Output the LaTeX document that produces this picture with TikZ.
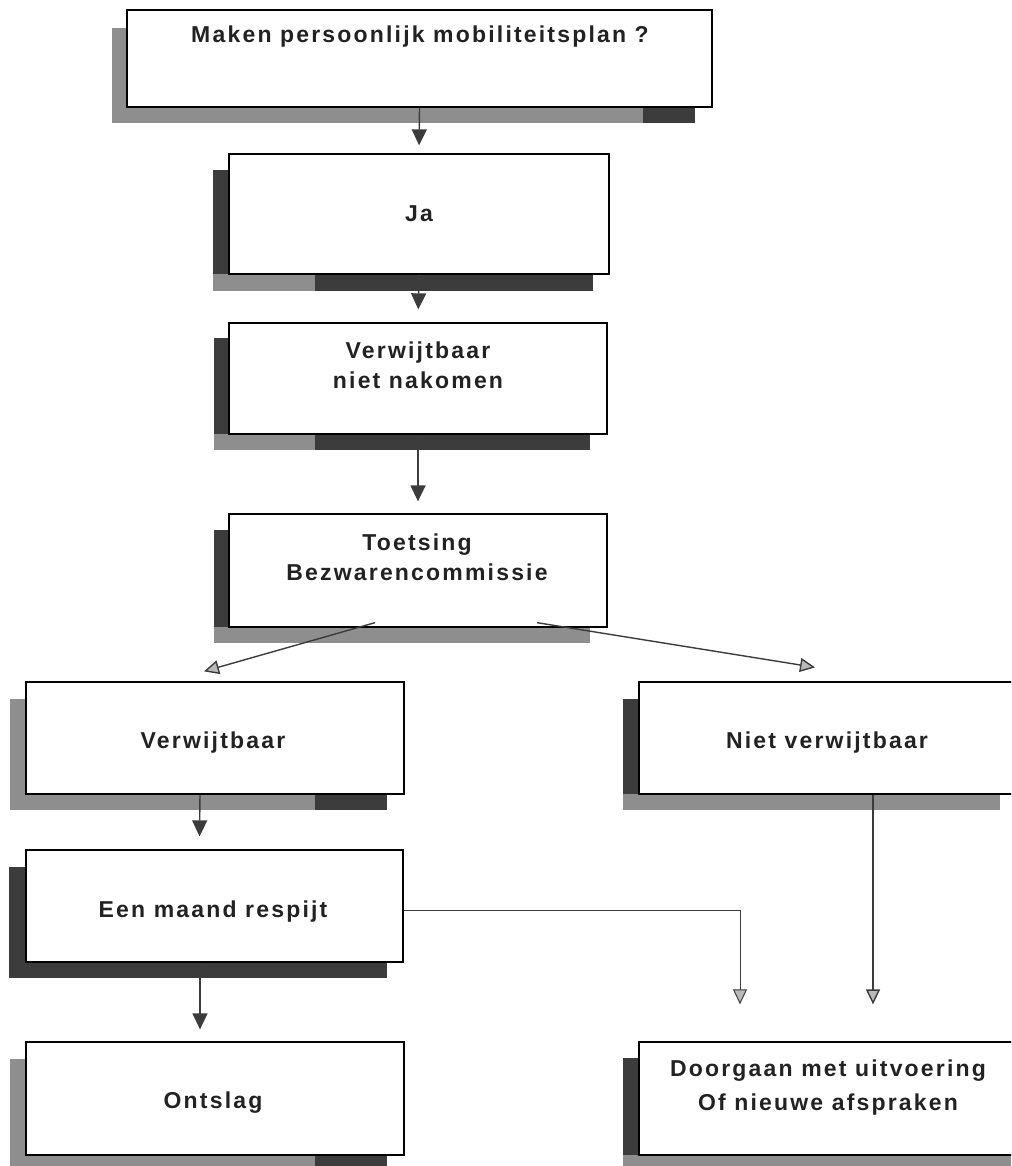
\documentclass[tikz,border=0pt]{standalone}
\usepackage{fontspec}
\setmainfont{Liberation Sans}[LetterSpace=9.5]
\usetikzlibrary{arrows.meta}
\definecolor{dk}{HTML}{3C3C3C}
\definecolor{gr}{HTML}{8E8E8E}
\definecolor{tx}{HTML}{222222}
\begin{document}
\begin{tikzpicture}[x=1pt,y=-1pt,
  box/.style={draw=black,line width=1.3pt,fill=white,rectangle,inner sep=0pt},
  lbl/.style={font=\fontsize{23}{30}\selectfont\bfseries,text=tx,inner sep=0pt,anchor=base},
  arr/.style={line width=1.4pt,draw=dk,-{Triangle[length=16pt,width=15pt]}},
  oarr/.style={line width=1.4pt,draw=dk,-{Triangle[length=15pt,width=14pt,fill=gray!55]}}]
\clip (0,0) rectangle (1011,1166);
\fill[white] (0,0) rectangle (1011,1166);
% shadows
\fill[gr] (112,28) rectangle (127,123);
\fill[gr] (112,107) rectangle (643,123);
\fill[dk] (643,107) rectangle (695,123);
\fill[dk] (213,170) rectangle (229,274);
\fill[gr] (213,274) rectangle (315,291);
\fill[dk] (315,274) rectangle (593,291);
\fill[dk] (214,338) rectangle (229,434);
\fill[gr] (214,434) rectangle (315,450);
\fill[dk] (315,434) rectangle (590,450);
\fill[dk] (214,530) rectangle (229,627);
\fill[gr] (214,627) rectangle (590,643);
\fill[gr] (10,699) rectangle (26,794);
\fill[gr] (10,794) rectangle (315,810);
\fill[dk] (315,794) rectangle (387,810);
\fill[dk] (623,699) rectangle (639,794);
\fill[gr] (623,794) rectangle (1000,810);
\fill[dk] (9,867) rectangle (26,962);
\fill[dk] (9,962) rectangle (387,978);
\fill[gr] (10,1059) rectangle (26,1155);
\fill[gr] (10,1155) rectangle (315,1170);
\fill[dk] (315,1155) rectangle (387,1170);
\fill[dk] (623,1058) rectangle (639,1155);
\fill[gr] (623,1155) rectangle (1011,1170);
% boxes
\node[box,minimum width=585pt,minimum height=97pt] (b1) at (419.5,58.5) {};
\node[box,minimum width=380pt,minimum height=120pt] (b2) at (419,214) {};
\node[box,minimum width=378pt,minimum height=111pt] (b3) at (418,378.5) {};
\node[box,minimum width=378pt,minimum height=113pt] (b4) at (418,570.5) {};
\node[box,minimum width=378pt,minimum height=112pt] (b5) at (215,738) {};
\node[box,minimum width=380pt,minimum height=112pt] (b6) at (829,738) {};
\node[box,minimum width=377pt,minimum height=112pt] (b7) at (214.5,906) {};
\node[box,minimum width=378pt,minimum height=113pt] (b8) at (215,1098.5) {};
\node[box,minimum width=380pt,minimum height=113pt] (b9) at (829,1098.5) {};
% texts
\node[lbl] (t1) at (420,43) {Maken persoonlijk mobiliteitsplan ?};
\node[lbl] (t2) at (419,222) {Ja};
\node[lbl] (t3a) at (418,358) {Verwijtbaar};
\node[lbl] (t3b) at (418,388) {niet nakomen};
\node[lbl] (t4a) at (417,550) {Toetsing};
\node[lbl] (t4b) at (417,580) {Bezwarencommissie};
\node[lbl] (t5) at (213,748) {Verwijtbaar};
\node[lbl] (t6) at (827,748) {Niet verwijtbaar};
\node[lbl] (t7) at (213,917) {Een maand respijt};
\node[lbl] (t8) at (213,1108) {Ontslag};
\node[lbl] (t9a) at (828,1076) {Doorgaan met uitvoering};
\node[lbl] (t9b) at (828,1110) {Of nieuwe afspraken};
% connectors
\draw[arr,shorten >=8pt] (b1.south) -- (b2.north);
\draw[arr,shorten >=13pt] (b2.south) -- (b3.north);
\draw[arr,shorten >=12pt] (b3.south) -- (b4.north);
\draw[oarr] ([xshift=-43pt,yshift=5pt]b4.south) -- ([xshift=-11pt,yshift=10pt]b5.north);
\draw[oarr] ([xshift=119pt,yshift=5pt]b4.south) -- ([xshift=-14pt,yshift=14pt]b6.north);
\draw[arr] ([xshift=-15pt]b5.south) -- ([xshift=-15pt,yshift=13pt]b7.north);
\coordinate (e7) at ([xshift=44pt,yshift=37pt]b9.north);
\coordinate (e8) at ([xshift=-89pt,yshift=37pt]b9.north);
\draw[oarr] ([xshift=44pt]b6.south) -- (e7);
\draw[oarr,line width=1pt] ([yshift=-4pt]b7.east) -| (e8);
\draw[arr] ([xshift=-14.5pt]b7.south) -- ([xshift=-15pt,yshift=12pt]b8.north);
\end{tikzpicture}
\end{document}
